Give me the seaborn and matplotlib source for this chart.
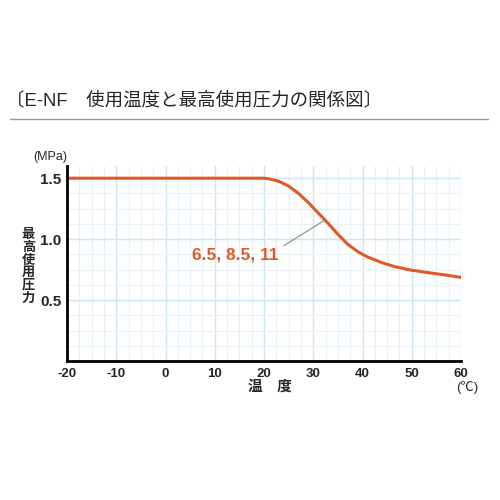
import matplotlib
matplotlib.use("Agg")
import matplotlib.pyplot as plt
from matplotlib.lines import Line2D
from matplotlib.ticker import MultipleLocator
import seaborn as sns
import pandas as pd

# values
temps = [-20, 0, 10, 18, 20, 21, 23, 25, 27, 29, 31, 33, 35, 37, 39,
         41, 44, 46.5, 49.5, 53.5, 57, 60]
pressures = [1.5, 1.5, 1.5, 1.5, 1.5, 1.495, 1.475, 1.435, 1.375, 1.30, 1.215, 1.13,
             1.04, 0.958, 0.898, 0.854, 0.806, 0.775, 0.748, 0.724, 0.705, 0.686]
x_ticks = [-20, -10, 0, 10, 20, 30, 40, 50, 60]
y_ticks = [0.5, 1.0, 1.5]
series_label = "6.5, 8.5, 11"

title = "〔E-NF\u3000使用温度と最高使用圧力の関係図〕"
y_label = "最高使用圧力"
x_label = "温\u3000度"

orange = "#E05A26"

df = pd.DataFrame({"temp": temps, "pressure": pressures})

sns.set_style("white")
plt.rcParams["font.family"] = ["Liberation Sans", "Noto Sans CJK JP", "DejaVu Sans"]
plt.rcParams["axes.unicode_minus"] = False

fig = plt.figure(figsize=(5, 5), dpi=100)
ax = fig.add_axes([0.134, 0.278, 0.788, 0.390])

sns.lineplot(data=df, x="temp", y="pressure", color=orange, linewidth=2.2, ax=ax)

ax.set_xlim(-20, 60)
ax.set_ylim(0, 1.6)
ax.set_xticks(x_ticks)
ax.set_yticks(y_ticks)
ax.xaxis.set_minor_locator(MultipleLocator(2.5))
ax.yaxis.set_minor_locator(MultipleLocator(0.125))
ax.grid(which="major", color="#cfe5f1", linewidth=1.0)
ax.grid(which="minor", color="#e7f2f8", linewidth=0.8)
ax.set_axisbelow(True)
ax.tick_params(which="both", length=0)
ax.tick_params(axis="x", pad=5, labelsize=9.5)
ax.tick_params(axis="y", pad=4, labelsize=11)
for lab in ax.get_xticklabels() + ax.get_yticklabels():
    lab.set_fontweight("bold")
ax.set_xlabel("")
ax.set_ylabel("")

for side in ["top", "right"]:
    ax.spines[side].set_visible(False)
for side in ["left", "bottom"]:
    ax.spines[side].set_color("black")
    ax.spines[side].set_linewidth(2)

# series label with leader line
ax.plot([24.0, 32.3], [0.945, 1.155], color="#8c8c8c", linewidth=0.8)
ax.text(5.4, 0.87, series_label, color=orange, fontsize=12.5, fontweight="bold",
        ha="left", va="center")

# title and rule
fig.text(0.012, 0.80, title, fontsize=13.3, ha="left", va="center")
fig.add_artist(Line2D([0.02, 0.976], [0.762, 0.762], color="#9a9a9a", linewidth=1.0))

# unit labels and axis titles
fig.text(0.10, 0.686, "(MPa)", fontsize=9, ha="center", va="center")
fig.text(0.057, 0.466, "\n".join(y_label), fontsize=9.5, ha="center", va="center",
         linespacing=1.05, fontweight="bold")
fig.text(0.54, 0.226, x_label, fontsize=10.5, ha="center", va="center", fontweight="bold")
fig.text(0.934, 0.226, "(℃)", fontsize=9.5, ha="center", va="center")

fig.savefig("out.png", dpi=100, facecolor="white")
